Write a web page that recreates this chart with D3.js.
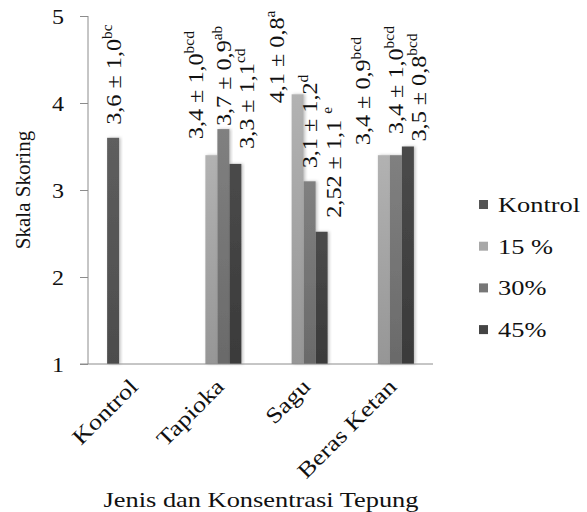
<!DOCTYPE html>
<html>
<head>
<meta charset="utf-8">
<script src="https://cdn.jsdelivr.net/npm/d3@7"></script>
<style>
  html, body { margin: 0; padding: 0; background: #fff; }
  svg { display: block; font-family: "Liberation Serif", "Times New Roman", serif; }
</style>
</head>
<body>
<div id="chart"></div>
<script>
// Flour type groups on the x axis
const categories = ["Kontrol", "Tapioka", "Sagu", "Beras Ketan"];
// Series (flour concentration)
const seriesNames = ["Kontrol", "15 %", "30%", "45%"];
// Mean score for each series per category (null = no bar)
const kontrolValues = [3.6, null, null, null];
const p15Values = [null, 3.4, 4.1, 3.4];
const p30Values = [null, 3.7, 3.1, 3.4];
const p45Values = [null, 3.3, 2.52, 3.5];
// Data labels: mean ± sd and significance letters
const kontrolLabels = [["3,6 ± 1,0", "bc"], null, null, null];
const p15Labels = [null, ["3,4 ± 1,0", "bcd"], ["4,1 ± 0,8", "a"], ["3,4 ± 0,9", "bcd"]];
const p30Labels = [null, ["3,7 ± 0,9", "ab"], ["3,1 ± 1,2", "d"], ["3,4 ± 1,0", "bcd"]];
const p45Labels = [null, ["3,3 ± 1,1", "cd"], ["2,52 ± 1,1 ", "e"], ["3,5 ± 0,8", "bcd"]];
// Y axis ticks
const yTicks = [1, 2, 3, 4, 5];
const yTitle = "Skala Skoring";
const xTitle = "Jenis dan Konsentrasi Tepung";

const seriesValues = [kontrolValues, p15Values, p30Values, p45Values];
const seriesLabels = [kontrolLabels, p15Labels, p30Labels, p45Labels];
const colors = [
  ["#5e5e5e", "#4c4c4c"],
  ["#b2b2b2", "#969696"],
  ["#808080", "#6a6a6a"],
  ["#4a4a4a", "#3a3a3a"]
];
const legendColors = ["#555555", "#a8a8a8", "#777777", "#444444"];

// Manual nudges of the data labels [dx, gap above bar]
const labelNudge = [
  [[0, 13], null, null, null],
  [null, [-16, 16], [-21, -9], [-21, 10]],
  [null, [0, 3], [0, 13], [0, 21]],
  [null, [11, 15], [12, 14], [11, 5]]
];

const W = 587, H = 512;
const svg = d3.select("#chart").append("svg").attr("width", W).attr("height", H);

const defs = svg.append("defs");
colors.forEach((c, i) => {
  const g = defs.append("linearGradient").attr("id", "grad" + i)
    .attr("x1", 0).attr("y1", 0).attr("x2", 0).attr("y2", 1);
  g.append("stop").attr("offset", "0%").attr("stop-color", c[0]);
  g.append("stop").attr("offset", "100%").attr("stop-color", c[1]);
});
const shadow = defs.append("filter").attr("id", "soft")
  .attr("x", "-30%").attr("y", "-5%").attr("width", "160%").attr("height", "110%");
shadow.append("feDropShadow").attr("dx", 1.5).attr("dy", 0)
  .attr("stdDeviation", 1.5).attr("flood-color", "#000").attr("flood-opacity", 0.25);

const y = d3.scaleLinear().domain([1, 5]).range([364, 16]);
const x0 = d3.scaleBand().domain(categories).range([88, 433]).padding(0);
const x1 = d3.scaleBand().domain(seriesNames).range([-24, 24]).padding(0);
const STRETCH = 1.2;

// Bars
const barData = [];
seriesValues.forEach((vals, s) => {
  vals.forEach((v, c) => {
    if (v != null) barData.push({ s, c, v, label: seriesLabels[s][c], nudge: labelNudge[s][c] });
  });
});

svg.append("g").selectAll("rect").data(barData).join("rect")
  .attr("x", d => x0(categories[d.c]) + x0.bandwidth() / 2 + x1(seriesNames[d.s]))
  .attr("y", d => y(d.v))
  .attr("width", x1.bandwidth())
  .attr("height", d => y(1) - y(d.v))
  .attr("fill", d => "url(#grad" + d.s + ")")
  .attr("filter", "url(#soft)");

// Axes
const axisColor = "#8c8c8c";
svg.append("line").attr("x1", 88).attr("x2", 88).attr("y1", y(5)).attr("y2", y(1))
  .attr("stroke", axisColor).attr("stroke-width", 1);
svg.append("line").attr("x1", 80).attr("x2", 433).attr("y1", y(1)).attr("y2", y(1))
  .attr("stroke", axisColor).attr("stroke-width", 1);
const yAxis = svg.append("g").attr("transform", "translate(88,0)")
  .call(d3.axisLeft(y).tickValues(yTicks).tickSize(8).tickFormat(d3.format("d")));
yAxis.select(".domain").remove();
yAxis.selectAll(".tick line").attr("stroke", axisColor);
yAxis.selectAll(".tick text")
  .attr("x", null).attr("dy", "0.35em")
  .attr("transform", `translate(-24,0) scale(${STRETCH},1)`)
  .attr("text-anchor", "end")
  .attr("font-family", "Liberation Serif")
  .attr("font-size", 20).attr("fill", "#111");

// Category labels
svg.append("g").selectAll("text").data(categories).join("text")
  .attr("transform", d => `translate(${x0(d) + x0.bandwidth() / 2 + 8},${y(1) + 24}) rotate(-45) scale(${STRETCH},1)`)
  .attr("text-anchor", "end")
  .attr("font-size", 22).attr("fill", "#111")
  .text(d => d);

// Data labels
const lbl = svg.append("g").selectAll("text").data(barData).join("text")
  .attr("transform", d => {
    const cx = x0(categories[d.c]) + x0.bandwidth() / 2 + x1(seriesNames[d.s]) + x1.bandwidth() / 2;
    return `translate(${cx + d.nudge[0] + 7.5},${y(d.v) - d.nudge[1]}) rotate(-90) scale(1.1,1)`;
  })
  .attr("font-size", 22).attr("fill", "#111");
lbl.append("tspan").text(d => d.label[0]);
lbl.append("tspan").attr("font-size", 14).attr("dy", -9).text(d => d.label[1]);

// Axis titles
svg.append("text")
  .attr("transform", "translate(30,190) rotate(-90)")
  .attr("text-anchor", "middle").attr("font-size", 21).attr("fill", "#111")
  .text(yTitle);
svg.append("text")
  .attr("transform", `translate(261,507) scale(${STRETCH},1)`)
  .attr("text-anchor", "middle").attr("font-size", 22).attr("fill", "#111")
  .text(xTitle);

// Legend
const legend = svg.append("g").selectAll("g").data(seriesNames).join("g")
  .attr("transform", (d, i) => `translate(479,${205 + i * 41.7})`);
legend.append("rect").attr("x", 0).attr("y", -5).attr("width", 9).attr("height", 9)
  .attr("fill", (d, i) => legendColors[i]);
legend.append("text")
  .attr("transform", `translate(19,7) scale(${STRETCH},1)`)
  .attr("font-size", 22).attr("fill", "#111")
  .text(d => d);
</script>
</body>
</html>
